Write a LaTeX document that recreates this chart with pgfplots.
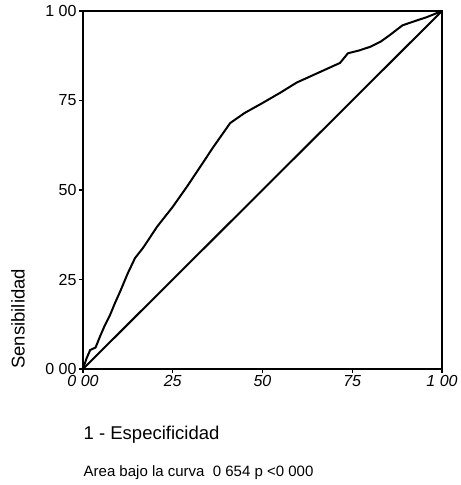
\documentclass[border=0pt]{standalone}
\usepackage{fontspec}
\setmainfont{Liberation Sans}
\usepackage{pgfplots}
\pgfplotsset{compat=1.18}
\begin{document}
\begin{tikzpicture}
\begin{axis}[
  scale only axis, width=359pt, height=358pt,
  xmin=0, xmax=1, ymin=0, ymax=1,
  xtick={0,0.25,0.5,0.75,1}, xticklabels={0 00,25,50,75,1 00},
  ytick={0,0.25,0.5,0.75,1}, yticklabels={0 00,25,50,75,1 00},
  tick align=outside, xtick pos=bottom, ytick pos=left,
  major tick length=4pt,
  tick style={line width=1.5pt,black},
  axis line style={line width=1.6pt},
  yticklabel style={font=\fontsize{16}{18}\selectfont, xshift=1pt},
  xticklabel style={font=\fontsize{16}{18}\selectfont\itshape, yshift=1pt},
  clip=false,
]
\addplot[black, line width=2pt] coordinates {
  (0,0) (0.01,0.03) (0.02,0.053) (0.035,0.06) (0.047,0.09) (0.06,0.12)
  (0.075,0.15) (0.089,0.184) (0.105,0.22) (0.125,0.268) (0.145,0.31)
  (0.167,0.338) (0.185,0.365) (0.206,0.397) (0.25,0.453) (0.29,0.51)
  (0.326,0.564) (0.363,0.62) (0.41,0.687) (0.45,0.715) (0.50,0.743)
  (0.55,0.772) (0.595,0.80) (0.65,0.825) (0.716,0.855) (0.738,0.882)
  (0.77,0.89) (0.80,0.90) (0.83,0.915) (0.855,0.933) (0.89,0.96)
  (0.925,0.972) (0.958,0.983) (1,1)
};
\addplot[black, line width=2pt] coordinates {(0,0) (1,1)};
\coordinate (sw) at (rel axis cs:0,0);
\coordinate (ne) at (rel axis cs:1,1);
\node[rotate=90, font=\fontsize{18.5}{21}\selectfont] at (axis description cs:-0.181,0.14) {Sensibilidad};
\node[anchor=west, font=\fontsize{18.5}{21}\selectfont] at (axis description cs:-0.008,-0.184) {1 - Especificidad};
\node[anchor=west, font=\fontsize{15}{17}\selectfont] at (axis description cs:-0.008,-0.29) {Area bajo la curva\ \ 0 654 p <0 000};
\end{axis}
\path (sw) ++(-83pt,-116pt) rectangle ([shift={(15pt,11pt)}]ne);
\end{tikzpicture}
\end{document}
